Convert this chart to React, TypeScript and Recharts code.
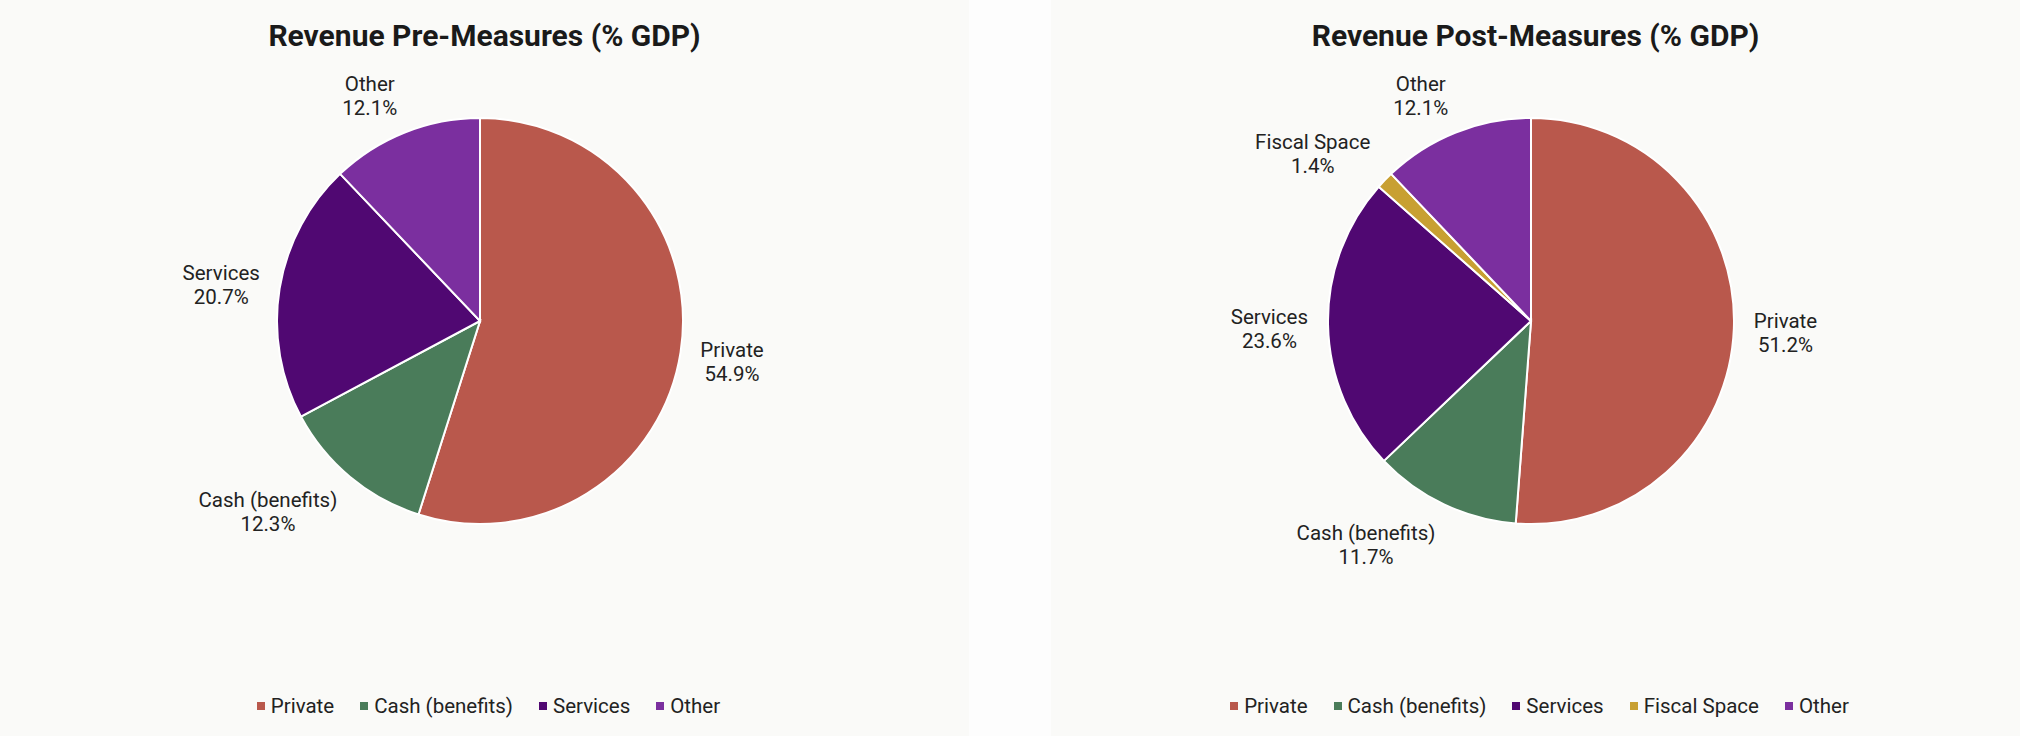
import { Legend, Pie, PieChart } from "recharts";

// Revenue shares (% GDP) before and after the measures
const preNames = ["Private", "Cash (benefits)", "Services", "Other"];
const preValues = [54.9, 12.3, 20.7, 12.1];

const postNames = ["Private", "Cash (benefits)", "Services", "Fiscal Space", "Other"];
const postValues = [51.2, 11.7, 23.6, 1.4, 12.1];

const COLORS: Record<string, string> = {
  Private: "#b9584c",
  "Cash (benefits)": "#4a7c5a",
  Services: "#500872",
  "Fiscal Space": "#c8a032",
  Other: "#7b2f9f",
};

const PANEL_W = 969;
const PANEL_H = 736;
const PANEL_BG = "#fafaf8";
const TEXT = "#222222";
const FONT = "Roboto, 'Noto Sans', sans-serif";
const LABEL_SIZE = 20.5;
const RAD = Math.PI / 180;

let measureCtx: CanvasRenderingContext2D | null = null;
function textWidth(s: string) {
  if (!measureCtx) measureCtx = document.createElement("canvas").getContext("2d");
  if (!measureCtx) return s.length * 10;
  measureCtx.font = `${LABEL_SIZE}px Roboto`;
  return measureCtx.measureText(s).width;
}

// two-line label (name / percent) sitting just outside the slice edge
function renderLabel(props: any) {
  const { cx, cy, midAngle, outerRadius } = props;
  const name: string = props.name ?? props.payload?.name;
  const value: number = props.value ?? props.payload?.value;
  const dx = Math.cos(-midAngle * RAD);
  const dy = Math.sin(-midAngle * RAD);
  const px = cx + (outerRadius + 20) * dx;
  const py = cy + (outerRadius + 20) * dy;
  const pct = `${Number(value).toFixed(1)}%`;
  const hw = Math.max(textWidth(name), textWidth(pct)) / 2;
  const x = px + Math.sign(dx) * hw;
  const y = py + dy * 22;
  return (
    <text x={x} y={y} textAnchor="middle" fill={TEXT} fontSize={LABEL_SIZE} fontFamily={FONT}>
      <tspan x={x} y={y - 2}>{name}</tspan>
      <tspan x={x} y={y + 22}>{pct}</tspan>
    </text>
  );
}

// legend in slice order rather than alphabetical
function makeLegend(order: string[]) {
  return function renderLegend(props: any) {
    const items: any[] = [...(props.payload ?? [])].sort(
      (a, b) => order.indexOf(a.value) - order.indexOf(b.value)
    );
    return (
      <div
        style={{
          display: "flex",
          justifyContent: "center",
          paddingLeft: 8,
          fontFamily: FONT,
          fontSize: LABEL_SIZE,
          lineHeight: "24px",
          color: TEXT,
        }}
      >
        {items.map((it, i) => (
          <div key={it.value} style={{ display: "flex", alignItems: "center", marginLeft: i === 0 ? 0 : 26 }}>
            <span style={{ width: 8, height: 8, background: it.color, marginRight: 6 }} />
            <span>{it.value}</span>
          </div>
        ))}
      </div>
    );
  };
}

type RevenuePieProps = {
  title: string;
  names: string[];
  values: number[];
};

function RevenuePie({ title, names, values }: RevenuePieProps) {
  const data = names.map((name, i) => ({ name, value: values[i], fill: COLORS[name] }));
  return (
    <div style={{ position: "relative", width: PANEL_W, height: PANEL_H, background: PANEL_BG }}>
      <div
        style={{
          position: "absolute",
          top: 21,
          left: 0,
          width: PANEL_W,
          textAlign: "center",
          fontFamily: FONT,
          fontWeight: 700,
          fontSize: 30,
          lineHeight: "30px",
          color: "#1a1a1a",
          zIndex: 1,
        }}
      >
        {title}
      </div>
      <PieChart width={PANEL_W} height={PANEL_H} margin={{ top: 0, right: 0, bottom: 0, left: 0 }}>
        <Pie
          data={data}
          dataKey="value"
          nameKey="name"
          cx={480}
          cy={321}
          outerRadius={203}
          startAngle={90}
          endAngle={-270}
          stroke="#ffffff"
          strokeWidth={2}
          label={renderLabel}
          labelLine={false}
          isAnimationActive={false}
        />
        <Legend
          content={makeLegend(names)}
          itemSorter={null}
          wrapperStyle={{ top: 694, left: 0, width: PANEL_W }}
        />
      </PieChart>
    </div>
  );
}

export default function App() {
  return (
    <div style={{ display: "flex", width: 2020, height: 736, background: "#fdfdfd" }}>
      <style>{`body { margin: 0; }`}</style>
      <RevenuePie title="Revenue Pre-Measures (% GDP)" names={preNames} values={preValues} />
      <div style={{ width: 82 }} />
      <RevenuePie title="Revenue Post-Measures (% GDP)" names={postNames} values={postValues} />
    </div>
  );
}
